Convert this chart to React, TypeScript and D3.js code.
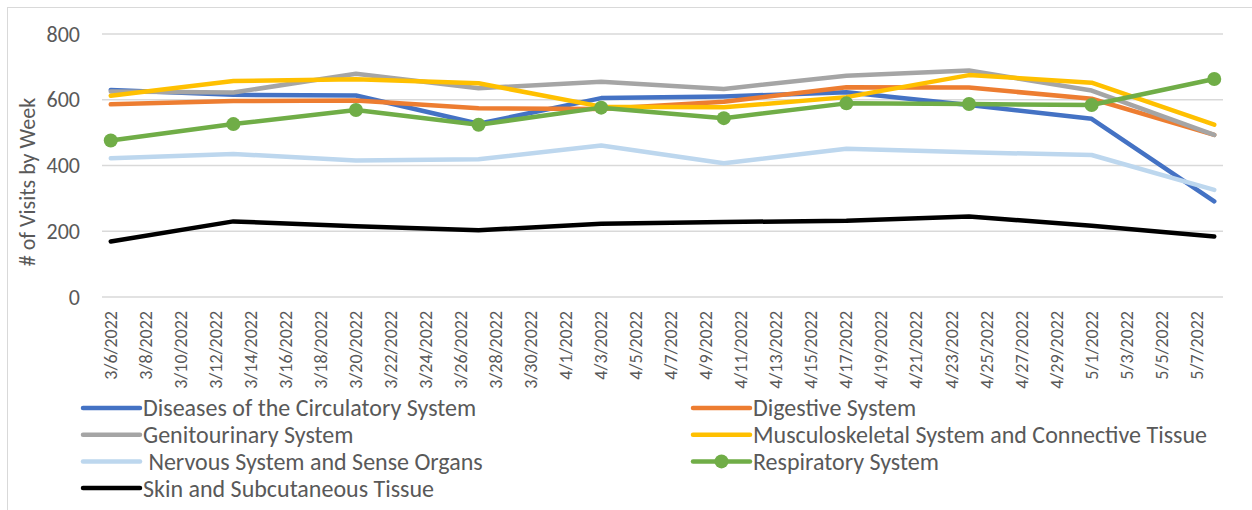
import React from 'react';
import * as d3 from 'd3';

// weekly visit counts
const weeks = ['3/6/2022', '3/13/2022', '3/20/2022', '3/27/2022', '4/3/2022', '4/10/2022', '4/17/2022', '4/24/2022', '5/1/2022', '5/8/2022'];

const circulatory = [630, 615, 613, 527, 605, 610, 623, 584, 542, 291];
const digestive = [586, 596, 598, 574, 572, 594, 638, 637, 603, 493];
const genitourinary = [625, 622, 679, 635, 655, 633, 673, 689, 628, 493];
const musculoskeletal = [612, 657, 662, 650, 579, 577, 608, 675, 652, 524];
const nervous = [422, 435, 415, 419, 461, 407, 451, 440, 432, 326];
const respiratory = [476, 526, 569, 524, 576, 544, 589, 587, 584, 663];
const skin = [169, 230, 215, 203, 223, 228, 232, 245, 217, 184];

const seriesNames = [
  'Diseases of the Circulatory System',
  'Digestive System',
  'Genitourinary System',
  'Musculoskeletal System and Connective Tissue',
  ' Nervous System and Sense Organs',
  'Respiratory System',
  'Skin and Subcutaneous Tissue',
];
const seriesValues = [circulatory, digestive, genitourinary, musculoskeletal, nervous, respiratory, skin];
const seriesColors = ['#4472C4', '#ED7D31', '#A5A5A5', '#FFC000', '#BDD7EE', '#70AD47', '#000000'];
const withMarkers = [false, false, false, false, false, true, false];

const yTicks = [0, 200, 400, 600, 800];

const font = 'Calibri, Carlito, Lato, sans-serif';
const textColor = '#595959';

export default function App() {
  const parse = d3.utcParse('%m/%d/%Y');
  const fmt = d3.utcFormat('%-m/%-d/%Y');
  const dates = weeks.map(w => parse(w) as Date);
  const first = dates[0];
  const last = dates[dates.length - 1];

  // date axis, one slot per day, points in the middle of their slot
  const x = d3.scaleUtc()
    .domain([d3.utcHour.offset(first, -12), d3.utcHour.offset(last, 12)])
    .range([102, 1223]);
  const y = d3.scaleLinear().domain([0, 800]).range([297, 34]);

  const tickDates = d3.utcDay.range(first, last, 2);

  const line = d3.line<number>()
    .x((_, i) => x(dates[i]))
    .y(d => y(d));

  const legendX = [83, 693];
  const legendY0 = 408;
  const legendStep = 26.7;

  return (
    <div style={{ position: 'absolute', left: 0, top: 0 }}>
      <svg width={1252} height={510} style={{ display: 'block', fontFamily: font }}>
        <rect x={0} y={0} width={1252} height={510} fill='#ffffff' />
        {/* chart frame */}
        <rect x={7.5} y={7.5} width={1400} height={700} fill='#ffffff' stroke='#d9d9d9' strokeWidth={1} />

        {/* grid + y labels */}
        {yTicks.map(t => (
          <g key={t}>
            <line x1={x.range()[0]} x2={x.range()[1]} y1={y(t)} y2={y(t)} stroke='#d9d9d9' strokeWidth={1.3} />
            <text x={80} y={y(t)} dy='0.35em' textAnchor='end' fontSize={22} fill={textColor}>{t}</text>
          </g>
        ))}

        <text
          transform={`translate(35, 182) rotate(-90)`}
          textAnchor='middle'
          fontSize={22}
          fill={textColor}
        >
          # of Visits by Week
        </text>

        {/* x tick labels */}
        {tickDates.map(d => (
          <text
            key={+d}
            transform={`translate(${x(d) + 6}, 311) rotate(-90)`}
            textAnchor='end'
            fontSize={18}
            fill={textColor}
          >
            {fmt(d)}
          </text>
        ))}

        {/* series */}
        {seriesValues.map((vals, i) => (
          <g key={seriesNames[i]}>
            <path
              d={line(vals) || ''}
              fill='none'
              stroke={seriesColors[i]}
              strokeWidth={4.5}
              strokeLinecap='round'
              strokeLinejoin='round'
            />
            {withMarkers[i] && vals.map((v, j) => (
              <circle key={j} cx={x(dates[j])} cy={y(v)} r={7} fill={seriesColors[i]} />
            ))}
          </g>
        ))}

        {/* legend */}
        {seriesNames.map((name, i) => {
          const lx = legendX[i % 2];
          const ly = legendY0 + Math.floor(i / 2) * legendStep;
          return (
            <g key={name}>
              <line x1={lx} x2={lx + 57} y1={ly} y2={ly} stroke={seriesColors[i]} strokeWidth={4.5} strokeLinecap='round' />
              {withMarkers[i] && <circle cx={lx + 28.5} cy={ly} r={7} fill={seriesColors[i]} />}
              <text x={lx + 60} y={ly} dy='0.35em' fontSize={24} fill={textColor} style={{ whiteSpace: 'pre' }}>
                {name}
              </text>
            </g>
          );
        })}
      </svg>
    </div>
  );
}
